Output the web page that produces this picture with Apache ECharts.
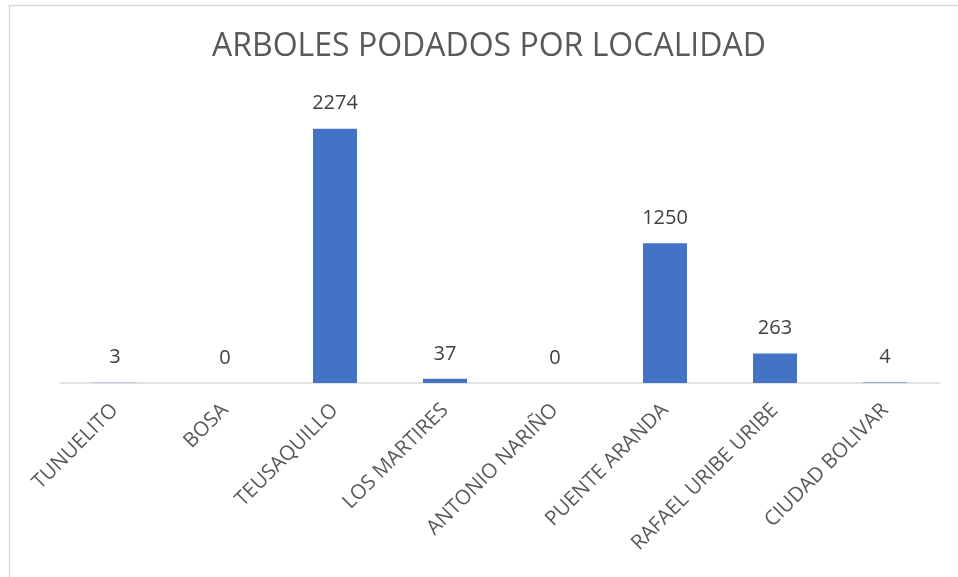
<!DOCTYPE html>
<html><head><meta charset="utf-8">
<script src="https://cdn.jsdelivr.net/npm/echarts@6/dist/echarts.min.js"></script>
<style>html,body{margin:0;padding:0;background:#fff}#c{width:958px;height:577px}</style>
</head><body><div id="c"></div>
<script>
const title = 'ARBOLES PODADOS POR LOCALIDAD';
const categories = ['TUNUELITO','BOSA','TEUSAQUILLO','LOS MARTIRES','ANTONIO NARIÑO','PUENTE ARANDA','RAFAEL URIBE URIBE','CIUDAD BOLIVAR'];
const values = [3,0,2274,37,0,1250,263,4];

const chart = echarts.init(document.getElementById('c'));
chart.setOption({
  animation:false,
  backgroundColor:'#fff',
  graphic:[{type:'rect',shape:{x:9.5,y:5.5,width:1000,height:600},style:{fill:'none',stroke:'#d9d9d9',lineWidth:1.5},silent:true}],
  title:{text:title,left:207,top:26,textStyle:{fontFamily:'Open Sans',fontSize:32,fontWeight:'normal',color:'#595959'}},
  grid:{left:60,right:18,top:103.5,bottom:194,containLabel:false},
  xAxis:{type:'category',data:categories,
    axisLine:{lineStyle:{color:'#d9d9d9',width:1.5}},axisTick:{show:false},
    axisLabel:{rotate:45,interval:0,margin:24,color:'#595959',fontFamily:'Open Sans',fontSize:20.5}},
  yAxis:{type:'value',min:0,max:2500,interval:500,show:false,splitLine:{show:false}},
  series:[{type:'bar',data:values,barWidth:'40%',itemStyle:{color:'#4472C4'},
    label:{show:true,position:'top',distance:15,color:'#404040',fontFamily:'Open Sans',fontSize:20}}]
});
</script></body></html>
